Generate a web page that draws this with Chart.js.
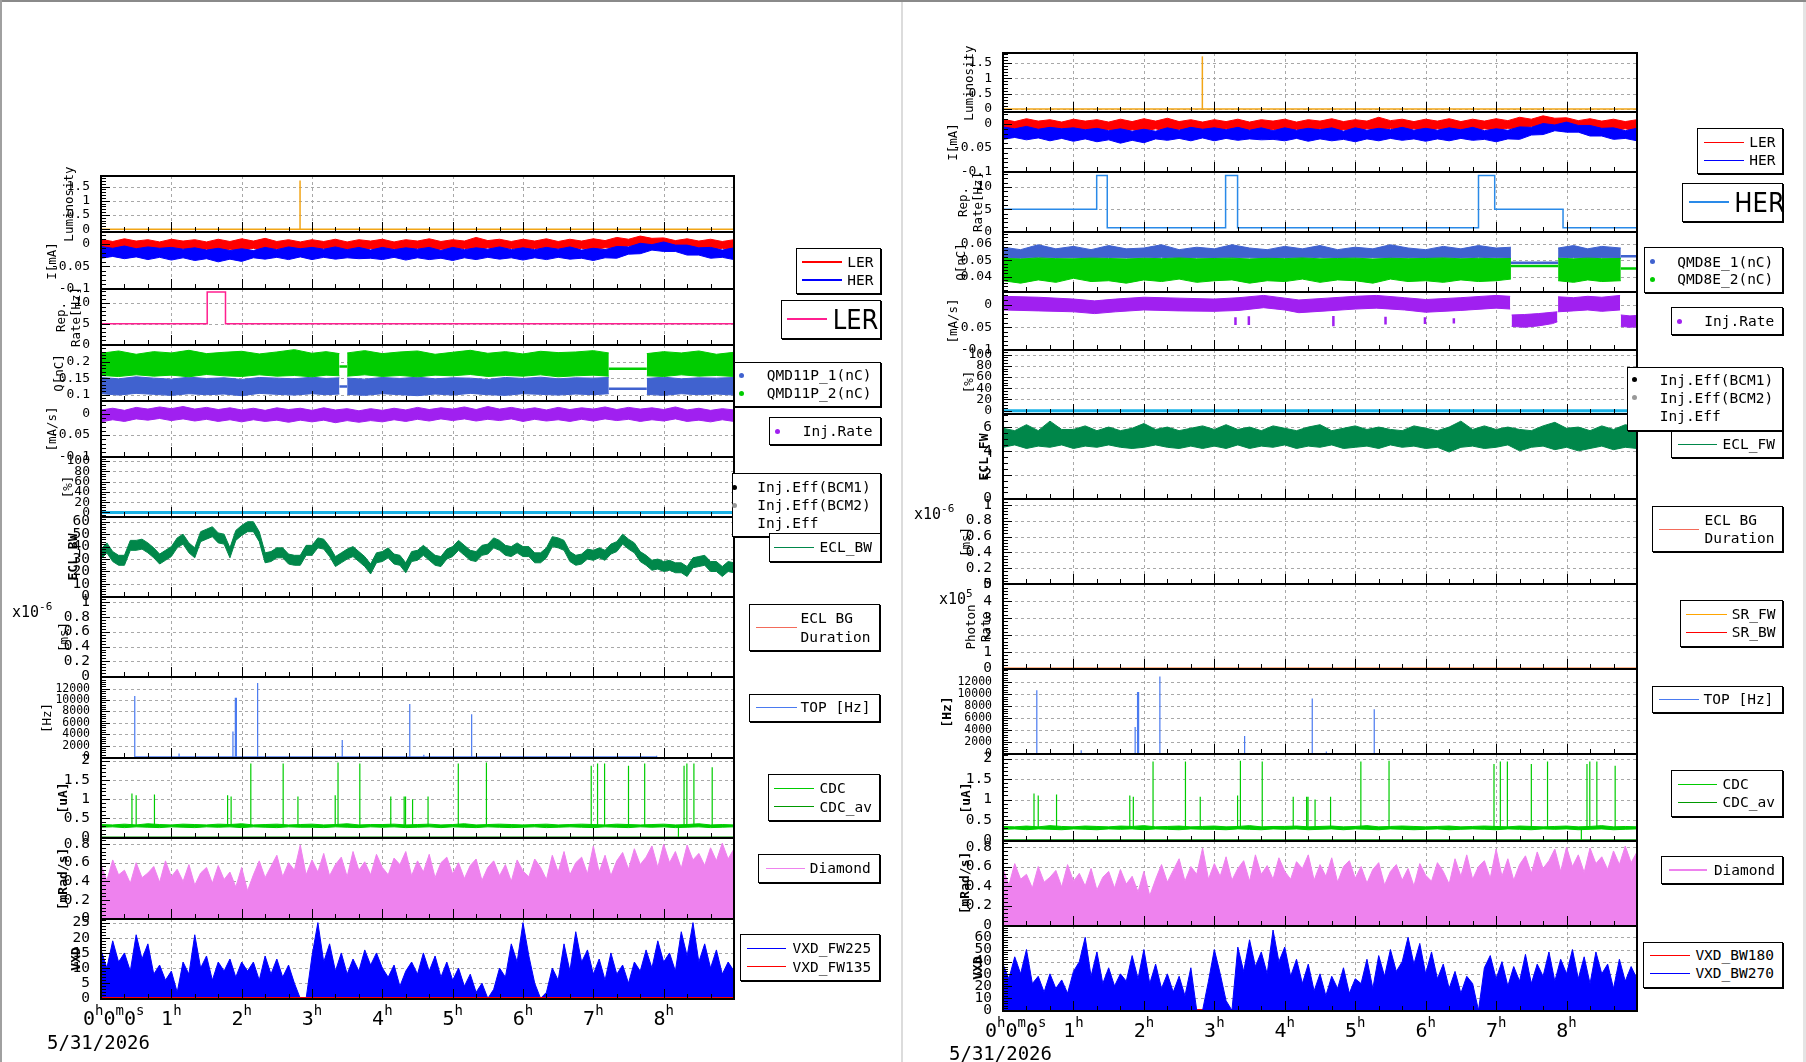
<!DOCTYPE html>
<html>
<head>
<meta charset="utf-8">
<script src="https://cdn.jsdelivr.net/npm/chart.js@4.4.1/dist/chart.umd.min.js"></script>
<style>
  body { margin: 0; background: #fff; }
  #page { position: relative; width: 1806px; height: 1062px; overflow: hidden; background: #fff;
          font-family: 'DejaVu Sans Mono', monospace; color: #000; }
  #page canvas { position: absolute; }
  .t { position: absolute; white-space: pre; line-height: 1; }
  .yt { position: absolute; white-space: pre; font-size: 12.5px; line-height: 15px; text-align: center;
        transform: translate(-50%, -50%) rotate(-90deg); }
  .leg { position: absolute; background: #fff; border: 1px solid #000; box-shadow: 1px 1px 0 #000; box-sizing: border-box; }
  .big { font-family: 'Liberation Sans Narrow', 'DejaVu Sans', sans-serif; font-stretch: condensed; font-size: 27px; }
</style>
</head>
<body>
<div id="page"></div>
<script>
const MONO = "'DejaVu Sans Mono', monospace";
const page = document.getElementById("page");

// time axis (hours since 0h0m0s, 5/31/2026)
const timeTicks = ["0h0m0s", "1h", "2h", "3h", "4h", "5h", "6h", "7h", "8h"];
const dateLabel = "5/31/2026";
const g1 = Array.from({ length: 55 }, (_, i) => i / 6);   // every 10 min
const g2 = Array.from({ length: 109 }, (_, i) => i / 12); // every 5 min

// luminosity (same in both pads)
const lumiSpikeT = [2.83];
const lumiSpikeV = [1.72];

// beam currents, band edges on g1
const lerUp = [0.010,0.005,0.011,0.006,0.009,0.004, 0.010,0.006,0.009,0.004,0.010,0.005, 0.011,0.006,0.012,0.005,0.009,0.004,
  0.009,0.005,0.010,0.004,0.009,0.006, 0.010,0.004,0.009,0.006,0.011,0.005, 0.009,0.006,0.014,0.007,0.010,0.005,
  0.010,0.006,0.011,0.005,0.010,0.006, 0.011,0.007,0.014,0.010,0.017,0.012, 0.013,0.007,0.011,0.006,0.010,0.005, 0.009];
const lerLo = [-0.014,-0.010,-0.015,-0.011,-0.016,-0.010, -0.015,-0.011,-0.016,-0.012,-0.017,-0.012, -0.015,-0.010,-0.016,-0.011,-0.015,-0.012,
  -0.016,-0.010,-0.015,-0.012,-0.016,-0.011, -0.015,-0.011,-0.016,-0.010,-0.015,-0.012, -0.014,-0.010,-0.013,-0.009,-0.015,-0.010,
  -0.015,-0.010,-0.014,-0.011,-0.015,-0.010, -0.013,-0.009,-0.010,-0.005,-0.006,-0.002, -0.009,-0.006,-0.012,-0.009,-0.014,-0.010, -0.015];
const herUp = [-0.006,-0.010,-0.005,-0.011,-0.007,-0.010, -0.008,-0.012,-0.009,-0.014,-0.010,-0.015, -0.011,-0.015,-0.008,-0.013,-0.007,-0.011,
  -0.008,-0.012,-0.007,-0.013,-0.008,-0.014, -0.008,-0.013,-0.009,-0.012,-0.008,-0.015, -0.008,-0.013,-0.009,-0.012,-0.007,-0.013,
  -0.009,-0.013,-0.008,-0.012,-0.007,-0.014, -0.010,-0.013,-0.006,-0.007,0.001,-0.002, 0.004,-0.003,-0.003,-0.009,-0.008,-0.014, -0.009];
const herLo = [-0.032,-0.028,-0.033,-0.029,-0.035,-0.030, -0.036,-0.031,-0.037,-0.033,-0.040,-0.034, -0.039,-0.031,-0.034,-0.030,-0.035,-0.029,
  -0.035,-0.030,-0.034,-0.031,-0.033,-0.032, -0.035,-0.030,-0.036,-0.031,-0.035,-0.032, -0.037,-0.031,-0.035,-0.030,-0.034,-0.031,
  -0.036,-0.031,-0.035,-0.030,-0.034,-0.032, -0.037,-0.031,-0.032,-0.023,-0.022,-0.014, -0.017,-0.017,-0.025,-0.025,-0.032,-0.030, -0.035];

// injection repetition rate (step values)
const repLerT = [0, 1.51, 1.77, 9];
const repLerV = [5, 12.7, 5, 5];
const repHerT = [0, 1.33, 1.48, 3.16, 3.33, 6.75, 6.98, 7.95, 9];
const repHerV = [5, 12.6, 0.8, 12.6, 0.8, 12.6, 5, 0.8, 0.8];

// bunch charge QMD11P (left)
const qT = [0,0.25,0.5,0.75,1,1.25,1.5,1.75,2,2.25,2.5,2.75,3,3.2,3.39, 3.45, 3.5,3.75,4,4.25,4.5,4.75,5,5.25,5.5,5.75,6,6.25,6.5,6.75,7,7.22, 7.5, 7.76,8,8.25,8.5,8.75,9];
const q2Up = [0.225,0.232,0.222,0.230,0.226,0.234,0.224,0.228,0.231,0.223,0.229,0.236,0.225,0.230,0.224, null,
  0.226,0.233,0.224,0.229,0.232,0.222,0.228,0.234,0.225,0.230,0.223,0.231,0.227,0.229,0.233,0.226, null, 0.224,0.230,0.226,0.232,0.222,0.228];
const q2Lo = [0.158,0.155,0.160,0.156,0.159,0.154,0.161,0.157,0.155,0.160,0.156,0.158,0.154,0.159,0.157, null,
  0.156,0.160,0.155,0.158,0.154,0.159,0.157,0.161,0.155,0.158,0.156,0.160,0.154,0.157,0.159,0.156, null, 0.157,0.155,0.160,0.156,0.158,0.155];
const q1Up = [0.152,0.148,0.154,0.150,0.147,0.153,0.149,0.151,0.146,0.152,0.150,0.148,0.153,0.149,0.151, null,
  0.150,0.147,0.152,0.149,0.153,0.148,0.151,0.150,0.146,0.152,0.149,0.153,0.148,0.151,0.150,0.152, null, 0.149,0.153,0.148,0.151,0.150,0.152];
const q1Lo = [0.103,0.099,0.104,0.101,0.098,0.103,0.100,0.102,0.097,0.104,0.101,0.099,0.103,0.100,0.102, null,
  0.101,0.098,0.103,0.100,0.097,0.102,0.099,0.104,0.100,0.098,0.103,0.101,0.099,0.102,0.100,0.103, null, 0.101,0.098,0.103,0.100,0.102,0.099];
const qGapT = [3.39, 3.5, 5, 7.22, 7.76];
const qGap1 = [0.125, 0.125, null, 0.118, 0.118];
const qGap2 = [0.185, 0.185, null, 0.178, 0.178];

// bunch charge QMD8E (right)
const qRT = [0,0.25,0.5,0.75,1,1.25,1.5,1.75,2,2.25,2.5,2.75,3,3.25,3.5,3.75,4,4.25,4.5,4.75,5,5.25,5.5,5.75,6,6.25,6.5,6.75,7,7.21, 7.5, 7.88,8.1,8.3,8.5,8.77];
const qR1Up = [0.058,0.0565,0.0595,0.057,0.0585,0.0565,0.059,0.057,0.0575,0.0595,0.0565,0.058,0.057,0.0595,0.0575,0.0565,0.0585,0.057,0.059,0.0565,
  0.058,0.057,0.0595,0.0575,0.0565,0.0585,0.057,0.059,0.0575,0.058, null, 0.0575,0.059,0.057,0.0585,0.0575];
const qR1Lo = [0.0515,0.0512,0.0518,0.0514,0.0516,0.0512,0.0517,0.0514,0.0515,0.0518,0.0513,0.0516,0.0514,0.0517,0.0515,0.0512,0.0516,0.0514,0.0518,0.0513,
  0.0515,0.0516,0.0514,0.0517,0.0513,0.0516,0.0514,0.0518,0.0515,0.0514, null, 0.0515,0.0517,0.0513,0.0516,0.0514];
const qR2Up = [0.0512,0.0508,0.0514,0.051,0.0509,0.0513,0.0511,0.0508,0.0512,0.051,0.0514,0.0509,0.0511,0.0513,0.0508,0.0512,0.051,0.0514,0.0509,0.0511,
  0.0513,0.0508,0.0512,0.051,0.0511,0.0514,0.0509,0.0512,0.051,0.0511, null, 0.0512,0.0509,0.0513,0.051,0.0511];
const qR2Lo = [0.0375,0.036,0.038,0.0365,0.039,0.037,0.0375,0.036,0.038,0.037,0.0385,0.0365,0.0375,0.038,0.036,0.0375,0.037,0.0385,0.0365,0.038,
  0.0375,0.036,0.0385,0.037,0.0375,0.0365,0.038,0.037,0.0375,0.0385, null, 0.0375,0.0365,0.038,0.037,0.0375];
const qRGapT = [7.21, 7.88, 8.3, 8.77, 9];
const qRGap1 = [0.0485, 0.0485, null, 0.0525, 0.0525];
const qRGap2 = [0.0465, 0.0465, null, 0.045, 0.045];

// injection rate
const injUp = [0.009,0.013,0.008,0.015,0.011,0.016, 0.012,0.017,0.011,0.015,0.010,0.014, 0.009,0.013,0.008,0.014,0.010,0.013,
  0.008,0.014,0.009,0.012,0.007,0.012, 0.008,0.013,0.009,0.015,0.010,0.014, 0.011,0.016,0.010,0.017,0.011,0.015,
  0.010,0.014,0.009,0.015,0.010,0.014, 0.011,0.016,0.010,0.015,0.011,0.014, 0.010,0.016,0.009,0.013,0.008,0.012, 0.009];
const injLo = [-0.019,-0.014,-0.018,-0.012,-0.015,-0.011, -0.016,-0.012,-0.017,-0.013,-0.018,-0.014, -0.019,-0.014,-0.018,-0.015,-0.020,-0.015,
  -0.019,-0.015,-0.021,-0.016,-0.020,-0.016, -0.019,-0.014,-0.018,-0.013,-0.017,-0.012, -0.016,-0.012,-0.017,-0.013,-0.016,-0.012,
  -0.018,-0.013,-0.017,-0.014,-0.018,-0.013, -0.017,-0.012,-0.016,-0.013,-0.018,-0.014, -0.017,-0.012,-0.018,-0.015,-0.019,-0.014, -0.018];
const injRT = [0,0.5,1,1.3,1.6,2,2.5,3,3.35,3.7,4,4.2,4.6,5,5.3,5.7,6,6.5,7,7.2, 7.21, 7.22,7.4,7.6,7.8,7.87, 7.875, 7.88,8.1,8.3,8.5,8.76, 8.765, 8.77,8.9,9];
const injRUp = [0.018,0.016,0.012,0.008,0.012,0.016,0.014,0.012,0.015,0.02,0.014,0.01,0.014,0.018,0.02,0.015,0.011,0.015,0.02,0.018, null,
  -0.023,-0.022,-0.02,-0.017,-0.016, null, 0.017,0.015,0.018,0.016,0.02, null, -0.023,-0.025,-0.024];
const injRLo = [-0.012,-0.014,-0.016,-0.02,-0.016,-0.012,-0.014,-0.015,-0.013,-0.007,-0.012,-0.018,-0.014,-0.01,-0.008,-0.012,-0.017,-0.013,-0.008,-0.01, null,
  -0.048,-0.05,-0.047,-0.042,-0.038, null, -0.016,-0.014,-0.012,-0.015,-0.012, null, -0.048,-0.05,-0.049];
const injDashT = [3.3, 3.49, 4.69, 5.43, 5.99, 6.4];
const injDashTop = [-0.028, -0.026, -0.025, -0.027, -0.028, -0.03];
const injDashBot = [-0.045, -0.045, -0.048, -0.044, -0.043, -0.042];

// ECL backward: band edges on g2
const eclBwUp = [38,43,36,33,33,45,45,46,43,39,34,37, 40,47,50,43,39,52,54,56,51,50,39,53, 57,60,60,52,35,36,39,39,34,33,33,41,
  41,47,46,40,32,35,38,40,36,32,26,35, 36,39,34,33,27,36,37,41,37,33,32,38, 40,45,41,37,36,41,42,47,45,41,40,43,
  40,40,35,35,39,48,47,45,36,33,34,38, 37,39,37,42,44,50,46,43,36,33,29,30, 28,29,27,27,24,31,32,33,28,28,24,28, 27];
const eclBwLo = [30,35,28,25,25,37,37,38,35,31,26,29, 32,39,42,35,31,44,46,48,43,42,31,45, 49,52,52,44,27,28,31,31,26,25,25,33,
  33,39,38,32,24,27,30,32,28,24,18,27, 28,31,26,25,19,28,29,33,29,25,24,30, 32,37,33,29,28,33,34,39,37,33,32,35,
  32,32,27,27,31,40,39,37,28,25,26,30, 29,31,29,34,36,42,38,35,28,25,21,22, 20,21,19,19,16,23,24,25,20,20,16,20, 19];
// ECL forward: band edges on g1
const eclFwUp = [5.9,5.7,6.2,5.7,6.5,5.8, 5.8,6.1,5.7,6.0,5.7,5.9, 6.3,5.8,6.0,5.7,5.9,6.1, 5.8,6.2,5.8,6.0,5.7,6.1,
  5.9,5.7,6.0,6.2,5.7,5.9, 6.1,5.8,6.0,5.8,5.7,6.1, 5.9,5.7,6.0,6.5,5.8,6.1, 5.8,6.0,5.8,5.7,6.1,6.4, 5.9,6.0,5.7,6.1,5.8,6.2, 6.0];
const eclFwLo = [4.3,4.5,4.2,4.4,4.3,4.5, 4.2,4.4,4.3,4.5,4.3,4.2, 4.3,4.5,4.3,4.2,4.4,4.2, 4.4,4.2,4.5,4.2,4.4,4.3,
  4.5,4.2,4.4,4.3,4.5,4.2, 4.3,4.4,4.2,4.5,4.3,4.4, 4.2,4.3,3.9,4.3,4.4,4.2, 4.3,4.5,4.0,4.3,4.4,4.1, 4.3,4.0,4.2,4.4,4.1,4.3, 4.2];

// TOP rate spikes (data from 0.48 h to 7.9 h)
const topStart = 0.48, topEnd = 7.9;
const topSpikeT = [0.48, 1.11, 1.876, 1.91, 1.925, 2.227, 3.43, 4.39, 4.59, 5.27, 7.9];
const topSpikeV = [10700, 600, 4500, 10400, 10400, 13000, 3000, 9300, 400, 7500, 200];

// CDC current: baseline band on g1 and spikes
const cdcUp = [0.34,0.33,0.35,0.33,0.36,0.34, 0.33,0.35,0.34,0.33,0.35,0.34, 0.36,0.33,0.34,0.35,0.33,0.34, 0.35,0.33,0.34,0.36,0.33,0.34,
  0.34,0.35,0.33,0.34,0.35,0.33, 0.34,0.36,0.33,0.34,0.35,0.34, 0.33,0.34,0.35,0.33,0.34,0.35, 0.34,0.33,0.35,0.34,0.33,0.34, 0.35,0.33,0.34,0.36,0.33,0.34, 0.33];
const cdcLo = [0.27,0.28,0.26,0.28,0.27,0.26, 0.28,0.27,0.26,0.28,0.27,0.28, 0.26,0.28,0.27,0.26,0.28,0.27, 0.27,0.26,0.28,0.27,0.26,0.28,
  0.27,0.28,0.26,0.27,0.28,0.26, 0.28,0.27,0.26,0.28,0.27,0.26, 0.27,0.28,0.26,0.27,0.28,0.27, 0.26,0.28,0.27,0.26,0.28,0.27, 0.28,0.26,0.27,0.28,0.26,0.27, 0.28];
const cdcBase = 0.3;
const cdcSpikeT = [0.44,0.50,0.76,1.80,1.85,2.13,2.59,2.80,3.33,3.37,3.68,4.12,4.31,4.33,4.43,4.65,5.08,5.48,6.97,7.06,7.16,7.50,7.73,8.21,8.29,8.33,8.43,8.69];
const cdcSpikeV = [1.15,1.1,1.12,1.1,1.07,1.93,1.93,1.07,1.1,1.95,1.93,1.07,1.07,1.07,1.0,1.07,1.93,1.95,1.87,1.93,1.93,1.87,1.93,0,1.87,1.93,1.93,1.83];

// diamond dose rate (g2)
const diamond = [0.58,0.41,0.63,0.47,0.52,0.38,0.60,0.44,0.49,0.56,0.39,0.62,0.45,
  0.53,0.40,0.58,0.36,0.49,0.55,0.38,0.57,0.42,0.50,0.34,0.55, 0.30,0.47,0.62,0.44,0.56,0.68,0.45,0.60,0.52,0.79,0.47,0.63,
  0.50,0.70,0.46,0.58,0.66,0.45,0.72,0.52,0.61,0.47,0.69,0.55, 0.47,0.65,0.58,0.72,0.46,0.62,0.50,0.69,0.44,0.60,0.66,0.48,
  0.60,0.43,0.57,0.64,0.41,0.55,0.62,0.46,0.58,0.40,0.63,0.51, 0.45,0.64,0.55,0.42,0.68,0.50,0.72,0.47,0.60,0.66,0.48,0.78,
  0.50,0.68,0.46,0.62,0.71,0.53,0.75,0.58,0.66,0.78,0.55,0.80, 0.60,0.72,0.54,0.79,0.63,0.70,0.57,0.76,0.62,0.81,0.64,0.75];

// VXD (g2)
const vxdFw225 = [16,10,19,12,15,9,21,13,18,8,11,6,9, 2,12,8,21,10,14,6,12,9,13,7,12, 9,12,6,14,8,13,7,11,5,0,0,14,
  25,12,18,9,15,8,13,9,16,11,15,10, 7,11,4,9,12,8,15,9,14,7,12,6, 10,4,8,2,5,0,3,10,7,18,12,25,
  14,5,0,2,10,6,18,9,22,12,16,8, 13,6,15,8,11,5,12,9,16,10,19,12, 15,9,22,14,25,12,18,10,16,8,12,9];
const vxdBw270 = [38,26,44,30,50,22,28,15,30,18,25,14,32, 40,60,28,48,22,35,20,30,24,45,26,50, 22,38,18,30,15,28,12,35,0,0,24,50,
  30,8,0,52,32,58,36,48,30,66,40,52, 28,42,22,38,16,30,12,28,18,35,14,26, 22,42,18,45,28,50,32,40,60,38,55,30,
  48,26,38,18,32,14,28,22,0,35,45,26, 40,20,36,24,46,22,38,28,48,24,42,30, 50,26,44,22,48,30,38,18,42,24,36,26];

// ---------- helpers ----------
const pts = (t, v) => t.map((x, i) => ({ x, y: v[i] }));
function line(t, v, color, width, more) {
  return Object.assign({ data: pts(t, v), borderColor: color, backgroundColor: color, borderWidth: width || 1,
    pointRadius: 0, tension: 0, fill: false, spanGaps: false }, more || {});
}
function band(t, up, lo, color) {
  const out = [];
  let run = [];
  const flush = () => {
    if (run.length > 1) {
      const tt = run.map(i => t[i]);
      out.push(line(tt, run.map(i => lo[i]), color, 1));
      out.push(line(tt, run.map(i => up[i]), color, 1, { fill: "-1" }));
    }
    run = [];
  };
  t.forEach((_, i) => { if (up[i] == null) flush(); else run.push(i); });
  flush();
  return out;
}
function spikes(t, top, bottom) {
  const tt = [], vv = [];
  t.forEach((x, i) => { tt.push(x, x, x); vv.push(Array.isArray(bottom) ? bottom[i] : bottom, top[i], null); });
  return [tt, vv];
}
function el(cls, parent) {
  const d = document.createElement("div");
  if (cls) d.className = cls;
  (parent || page).appendChild(d);
  return d;
}
function text(str, x, y, size, extra) {
  const d = el("t");
  d.innerHTML = str;
  Object.assign(d.style, { left: x + "px", top: y + "px", fontSize: size + "px", transform: "translateY(-50%)" }, extra || {});
  return d;
}

Chart.register({
  id: "frame",
  beforeDatasetsDraw(chart, args, o) {
    const { ctx, chartArea: a } = chart, x = chart.scales.x, y = chart.scales.y;
    ctx.save();
    ctx.strokeStyle = "#a8a8a8"; ctx.lineWidth = 1; ctx.setLineDash([3, 3]);
    ctx.beginPath();
    for (let h = 1; h <= 8; h++) {
      const p = Math.round(x.getPixelForValue(h)) + 0.5;
      ctx.moveTo(p, a.top); ctx.lineTo(p, a.bottom);
    }
    o.ticks.forEach(v => {
      const p = Math.round(y.getPixelForValue(v)) + 0.5;
      if (p > a.top + 2 && p < a.bottom - 2) { ctx.moveTo(a.left, p); ctx.lineTo(a.right, p); }
    });
    ctx.stroke();
    ctx.restore();
  },
  afterDatasetsDraw(chart, args, o) {
    const { ctx, chartArea: a } = chart, x = chart.scales.x, y = chart.scales.y;
    ctx.save();
    ctx.strokeStyle = "#000"; ctx.lineWidth = 1;
    ctx.beginPath();
    const t0 = o.ticks[0], st = o.minor;
    const kMin = Math.ceil((y.min - t0) / st - 1e-6), kMax = Math.floor((y.max - t0) / st + 1e-6);
    for (let k = kMin; k <= kMax; k++) {
      const v = t0 + k * st;
      const p = Math.round(y.getPixelForValue(v)) + 0.5;
      const major = o.ticks.some(tv => Math.abs(tv - v) < st / 10);
      ctx.moveTo(a.left, p); ctx.lineTo(a.left + (major ? 9 : 5), p);
    }
    for (let k = 1; k < 27; k++) {
      const p = Math.round(x.getPixelForValue(k / 3)) + 0.5;
      ctx.moveTo(p, a.bottom); ctx.lineTo(p, a.bottom - (k % 3 === 0 ? 10 : 5));
    }
    ctx.stroke();
    ctx.lineWidth = 2;
    ctx.strokeRect(a.left, a.top, a.right - a.left, a.bottom - a.top);
    ctx.restore();
  },
  afterDraw(chart, args, o) {
    if (!o.time) return;
    const { ctx, chartArea: a } = chart, x = chart.scales.x;
    const big = "20px " + MONO, small = "14px " + MONO;
    const yb = a.bottom + 26;
    ctx.save();
    ctx.fillStyle = "#000"; ctx.textBaseline = "alphabetic"; ctx.textAlign = "left";
    timeTicks.forEach((lab, h) => {
      const parts = [...lab.matchAll(/(\d+)([hms])/g)];
      let total = 0;
      parts.forEach(m => {
        ctx.font = big; total += ctx.measureText(m[1]).width;
        ctx.font = small; total += ctx.measureText(m[2]).width;
      });
      const px = x.getPixelForValue(h);
      let cx = h === 0 ? px - 18 : px - total / 2;
      parts.forEach(m => {
        ctx.font = big; ctx.fillText(m[1], cx, yb); cx += ctx.measureText(m[1]).width;
        ctx.font = small; ctx.fillText(m[2], cx, yb - 10); cx += ctx.measureText(m[2]).width;
      });
    });
    ctx.restore();
  }
});

function makePanel(col, idx, spec) {
  const top = col.b[idx], bot = col.b[idx + 1];
  const last = idx === col.b.length - 2;
  const padT = 12, padB = last ? 48 : 12;
  const cv = document.createElement("canvas");
  cv.width = col.r + 2 - col.x0;
  cv.height = bot - top + padT + padB;
  cv.style.left = col.x0 + "px";
  cv.style.top = (top - padT) + "px";
  page.appendChild(cv);
  const ds = spec.data;
  ds.forEach((d, i) => { d.order = -i; });
  // taller pads get larger labels, as in the original canvas
  const fs = spec.fs || (bot - top > 70 ? 14.5 : 13);
  new Chart(cv, {
    type: "line",
    data: { datasets: ds },
    options: {
      responsive: false, animation: false, events: [],
      layout: { padding: { top: padT, bottom: padB, left: 0, right: 2 } },
      plugins: { legend: { display: false }, tooltip: { enabled: false },
        frame: { ticks: spec.ticks, minor: spec.minor, time: last } },
      scales: {
        x: { type: "linear", min: 0, max: 9, display: false },
        y: {
          type: "linear", min: spec.min, max: spec.max,
          afterBuildTicks: s => { s.ticks = spec.ticks.map(v => ({ value: v })); },
          afterFit: s => { s.width = col.l - col.x0; },
          grid: { display: false }, border: { display: false },
          ticks: { autoSkip: false, padding: 3, color: "#000", font: { family: MONO, size: fs },
            callback: v => String(v) }
        }
      }
    }
  });
}

// ---------- layout ----------
const colL = { x0: 0, l: 101, r: 734, b: [176, 232, 289, 345, 401, 457, 517, 597, 677, 758, 838, 919, 999] };
const colR = { x0: 902, l: 1003, r: 1637, b: [53, 112, 172, 232, 292, 350, 414, 499, 584, 669, 754, 841, 926, 1011] };

// pad frames
[[0, 0, 1806, 2, "#8a8a8a"], [0, 0, 2, 1062, "#a0a0a0"], [901, 2, 2, 1060, "#dcdcdc"], [1803, 2, 3, 1060, "#e4e4e4"]].forEach(r => {
  const d = el();
  Object.assign(d.style, { position: "absolute", left: r[0] + "px", top: r[1] + "px", width: r[2] + "px", height: r[3] + "px", background: r[4] });
});

const C = {
  lumi: "#f2a516", ler: "#ff0000", her: "#0000ff", repLer: "#ff1f8f", repHer: "#2a8ae8",
  q1: "#4062cf", q2: "#00cc00", inj: "#a020f0", eff: "#1ab2e6", ecl: "#00874a", eclbg: "#f36b5a",
  top: "#4a7af0", cdc: "#00cc00", cdcav: "#009900", dia: "#ee82ee", vxdB: "#0000ff", vxdR: "#ff0000", srFw: "#ffa500"
};
const lumiSp = spikes(lumiSpikeT, lumiSpikeV, 0);
const topSp = spikes(topSpikeT, topSpikeV, 0);
const cdcSp = spikes(cdcSpikeT, cdcSpikeV, cdcBase);
const injDash = spikes(injDashT, injDashTop, injDashBot);
const flat = (color, w) => line([0, 9], [0, 0], color, w);

const commonLumi = () => [line([0, 9], [0, 0], C.lumi, 1.5), line(lumiSp[0], lumiSp[1], C.lumi, 1.5)];
const commonI = () => [...band(g1, lerUp, lerLo, C.ler), ...band(g1, herUp, herLo, C.her)];
const commonTop = () => [line([topStart, topEnd], [0, 0], C.top, 1.5), line(topSp[0], topSp[1], C.top, 1.2)];
const commonCdc = () => [flat(C.cdcav, 2), ...band(g1, cdcUp, cdcLo, C.cdc), line(cdcSp[0], cdcSp[1], C.cdc, 1.2)];
const commonDia = () => [line(g2, diamond, C.dia, 1, { fill: "origin" })];
const t100 = [0, 20, 40, 60, 80, 100], t1 = [0, 0.2, 0.4, 0.6, 0.8, 1], tTop = [0, 2000, 4000, 6000, 8000, 10000, 12000];

const leftPanels = [
  { min: -0.1, max: 1.875, ticks: [0, 0.5, 1, 1.5], minor: 0.1, data: commonLumi() },
  { min: -0.1, max: 0.026, ticks: [-0.1, -0.05, 0], minor: 0.01, data: commonI() },
  { min: -0.15, max: 13.4, ticks: [0, 5, 10], minor: 1, data: [line(repLerT, repLerV, C.repLer, 1.5, { stepped: true })] },
  { min: 0.081, max: 0.25, ticks: [0.1, 0.15, 0.2], minor: 0.01,
    data: [...band(qT, q1Up, q1Lo, C.q1), ...band(qT, q2Up, q2Lo, C.q2), line(qGapT, qGap1, C.q1, 2.5), line(qGapT, qGap2, C.q2, 2.5)] },
  { min: -0.1015, max: 0.03, ticks: [-0.1, -0.05, 0], minor: 0.01, data: band(g1, injUp, injLo, C.inj) },
  { min: -9, max: 108, ticks: t100, minor: 5, data: [flat(C.eff, 3)] },
  { min: -0.5, max: 63.8, ticks: [0, 10, 20, 30, 40, 50, 60], minor: 2, data: band(g2, eclBwUp, eclBwLo, C.ecl) },
  { min: -0.01, max: 1.067, ticks: t1, minor: 0.04, data: [] },
  { min: -175, max: 14050, ticks: tTop, minor: 400, fs: 11.5, data: commonTop() },
  { min: -0.01, max: 2.07, ticks: [0, 0.5, 1, 1.5, 2], minor: 0.1, data: commonCdc() },
  { min: -0.003, max: 0.865, ticks: [0, 0.2, 0.4, 0.6, 0.8], minor: 0.04, data: commonDia() },
  { min: -0.2, max: 26.2, ticks: [0, 5, 10, 15, 20, 25], minor: 1,
    data: [line(g2, vxdFw225, C.vxdB, 1, { fill: "origin" }), flat(C.vxdR, 3)] }
];
const rightPanels = [
  { min: -0.1, max: 1.83, ticks: [0, 0.5, 1, 1.5], minor: 0.1, data: commonLumi() },
  { min: -0.1, max: 0.025, ticks: [-0.1, -0.05, 0], minor: 0.01, data: commonI() },
  { min: -0.15, max: 13.4, ticks: [0, 5, 10], minor: 1, data: [line(repHerT, repHerV, C.repHer, 1.5, { stepped: true })] },
  { min: 0.0306, max: 0.0673, ticks: [0.04, 0.05, 0.06], minor: 0.002,
    data: [...band(qRT, qR1Up, qR1Lo, C.q1), ...band(qRT, qR2Up, qR2Lo, C.q2), line(qRGapT, qRGap1, C.q1, 2.5), line(qRGapT, qRGap2, C.q2, 2.5)] },
  { min: -0.1, max: 0.0275, ticks: [-0.1, -0.05, 0], minor: 0.01,
    data: [...band(injRT, injRUp, injRLo, C.inj), line(injDash[0], injDash[1], C.inj, 2.5)] },
  { min: -6, max: 108.4, ticks: t100, minor: 5, data: [flat(C.eff, 3)] },
  { min: -0.05, max: 7.1, ticks: [0, 2, 4, 6], minor: 0.5, data: band(g1, eclFwUp, eclFwLo, C.ecl) },
  { min: 0, max: 1.074, ticks: t1, minor: 0.04, data: [] },
  { min: -0.02, max: 5.02, ticks: [0, 1, 2, 3, 4, 5], minor: 0.2, data: [flat(C.vxdR, 2), flat(C.srFw, 2)] },
  { min: -30, max: 14250, ticks: tTop, minor: 400, fs: 11.5, data: commonTop() },
  { min: -0.016, max: 2.115, ticks: [0, 0.5, 1, 1.5, 2], minor: 0.1, data: commonCdc() },
  { min: -0.01, max: 0.862, ticks: [0, 0.2, 0.4, 0.6, 0.8], minor: 0.04, data: commonDia() },
  { min: -0.5, max: 69.3, ticks: [0, 10, 20, 30, 40, 50, 60], minor: 2,
    data: [flat(C.vxdR, 3), line(g2, vxdBw270, C.vxdB, 1, { fill: "origin" })] }
];
leftPanels.forEach((s, i) => makePanel(colL, i, s));
rightPanels.forEach((s, i) => makePanel(colR, i, s));

// ---------- axis titles ----------
const yTitles = [
  ["Luminosity", 67.7, 204], ["I[mA]", 50.7, 260.5], ["Rep.\nRate[Hz]", 67.5, 317], ["Q[nC]", 58, 373], ["[mA/s]", 50.7, 429],
  ["[%]", 67, 487], ["ECL_BW", 71.6, 557, 1], ["[ms]", 63, 637], ["[Hz]", 45.8, 717.5], ["[uA]", 62, 798, 1],
  ["[mRad/s]", 62, 878.5, 1], ["VXD", 74.5, 958.7, 1],
  ["Luminosity", 968, 82.7], ["I[mA]", 952, 142], ["Rep.\nRate[Hz]", 969.7, 202], ["Q[nC]", 959.5, 262], ["[mA/s]", 952, 321],
  ["[%]", 968, 382], ["ECL_FW", 982.7, 456.7, 1], ["[ms]", 965, 541.8], ["Photon\nRate", 978, 627], ["[Hz]", 946, 711.8, 1],
  ["[uA]", 964.7, 797.5, 1], ["[mRad/s]", 963.6, 883, 1], ["VXD", 976.9, 968, 1]
];
yTitles.forEach(([s, x, y, bold]) => {
  const d = el("yt");
  d.textContent = s;
  Object.assign(d.style, { left: x + "px", top: y + "px" });
  if (bold) { d.style.fontWeight = "bold"; d.style.fontSize = "13px"; }
});
text('x10<span style="font-size:11px;position:relative;top:-7px">-6</span>', 12, 612, 15);
text('x10<span style="font-size:11px;position:relative;top:-7px">-6</span>', 914, 514, 15);
text('x10<span style="font-size:11px;position:relative;top:-7px">5</span>', 939, 599, 15);
text(dateLabel, 47, 1042, 19);
text(dateLabel, 949, 1053, 19);

// ---------- legends ----------
const legends = [
  { box: [795.7, 248.3, 880.7, 294], tx: 847.3, lx: [802, 842], items: [["line", C.ler, 262, "LER"], ["line", C.her, 280, "HER"]] },
  { box: [780.7, 300, 880.7, 339.3], tx: 832.7, lx: [787, 827], big: 1, items: [["line", C.repLer, 319, "LER"]] },
  { box: [734, 361.7, 880.7, 407.3], tx: 766.7, dx: 741.7, items: [["dot", C.q1, 375.3, "QMD11P_1(nC)"], ["dot", C.q2, 393.3, "QMD11P_2(nC)"]] },
  { box: [769.3, 417.3, 880.7, 445.3], tx: 802.7, dx: 777.3, items: [["dot", C.inj, 431.3, "Inj.Rate"]] },
  { box: [731.6, 473.3, 880.7, 537.3], tx: 757.3, dx: 734, items: [["dot", "#000", 487, "Inj.Eff(BCM1)"], ["dot", "#999", 505, "Inj.Eff(BCM2)"], ["none", "", 523, "Inj.Eff"]] },
  { box: [768.7, 533.3, 880.7, 562], tx: 819.5, lx: [773.6, 813.8], items: [["line", C.ecl, 547.3, "ECL_BW"]] },
  { box: [749, 604.3, 880, 650.7], tx: 800.6, lx: [756.4, 796.6], items: [["none", "", 618.3, "ECL BG"], ["line", C.eclbg, 627.3, ""], ["none", "", 636.7, "Duration"]] },
  { box: [749, 694, 880, 722], tx: 800.6, lx: [756.4, 796.6], items: [["line", C.top, 707.3, "TOP [Hz]"]] },
  { box: [768, 774.3, 880, 820.7], tx: 819.5, lx: [773.6, 813.8], items: [["line", C.cdc, 788.3, "CDC"], ["line", C.cdcav, 806.7, "CDC_av"]] },
  { box: [758, 854.3, 880, 882.7], tx: 809.7, lx: [766.2, 805.2], items: [["line", C.dia, 868.3, "Diamond"]] },
  { box: [740.4, 934.3, 880, 980.7], tx: 792.6, lx: [746.7, 786.2], items: [["line", C.vxdB, 948.3, "VXD_FW225"], ["line", C.vxdR, 966.7, "VXD_FW135"]] },

  { box: [1697.3, 128.3, 1782.7, 174.3], tx: 1749.3, lx: [1704, 1744], items: [["line", C.ler, 142.3, "LER"], ["line", C.her, 160.3, "HER"]] },
  { box: [1682.3, 183.3, 1782.7, 222.3], tx: 1734.3, lx: [1689, 1729], big: 1, items: [["line", C.repHer, 202, "HER"]] },
  { box: [1644.3, 247.3, 1782.7, 293.3], tx: 1677.3, dx: 1652.3, items: [["dot", C.q1, 261.7, "QMD8E_1(nC)"], ["dot", C.q2, 279.3, "QMD8E_2(nC)"]] },
  { box: [1671.3, 307.3, 1782.7, 335.3], tx: 1704.3, dx: 1679.3, items: [["dot", C.inj, 321.3, "Inj.Rate"]] },
  { box: [1626.7, 366.7, 1782.7, 430.7], tx: 1659.7, dx: 1634, items: [["dot", "#000", 379.7, "Inj.Eff(BCM1)"], ["dot", "#999", 397.7, "Inj.Eff(BCM2)"], ["none", "", 415.7, "Inj.Eff"]] },
  { box: [1670.5, 430.7, 1783, 458.3], tx: 1722.5, lx: [1677.5, 1716.8], items: [["line", C.ecl, 444.3, "ECL_FW"]] },
  { box: [1652, 506, 1783, 552.3], tx: 1704.6, lx: [1659, 1699.4], items: [["none", "", 520.3, "ECL BG"], ["line", C.eclbg, 529.3, ""], ["none", "", 538.3, "Duration"]] },
  { box: [1679.8, 600, 1783, 646.7], tx: 1731.8, lx: [1686, 1726.6], items: [["line", C.srFw, 614.3, "SR_FW"], ["line", C.vxdR, 632.3, "SR_BW"]] },
  { box: [1652, 685.7, 1783, 713.3], tx: 1703.5, lx: [1659, 1699.4], items: [["line", C.top, 699.3, "TOP [Hz]"]] },
  { box: [1670.5, 770.3, 1783, 816.7], tx: 1722.5, lx: [1677.5, 1716.8], items: [["line", C.cdc, 784.3, "CDC"], ["line", C.cdcav, 802.3, "CDC_av"]] },
  { box: [1661, 856, 1783, 884.3], tx: 1713.9, lx: [1668.8, 1707.5], items: [["line", C.dia, 870, "Diamond"]] },
  { box: [1643, 941.7, 1783, 987.7], tx: 1695.4, lx: [1650.3, 1690.2], items: [["line", C.vxdR, 955.3, "VXD_BW180"], ["line", C.vxdB, 973.3, "VXD_BW270"]] }
];
legends.forEach(L => {
  const [x1, y1, x2, y2] = L.box;
  const b = el("leg");
  Object.assign(b.style, { left: x1 + "px", top: y1 + "px", width: (x2 - x1) + "px", height: (y2 - y1) + "px" });
  L.items.forEach(([kind, color, y, label]) => {
    if (kind === "line") {
      const d = el();
      Object.assign(d.style, { position: "absolute", left: L.lx[0] + "px", top: (y - 0.75) + "px",
        width: (L.lx[1] - L.lx[0]) + "px", height: "1.5px", background: color });
    } else if (kind === "dot") {
      const d = el();
      Object.assign(d.style, { position: "absolute", left: (L.dx - 2.5) + "px", top: (y - 2.5) + "px",
        width: "5px", height: "5px", borderRadius: "50%", background: color });
    }
    if (label) {
      const t = text(label, L.tx, y, L.big ? 27 : 14.5);
      if (L.big) t.className = "t big";
    }
  });
});
</script>
</body>
</html>
